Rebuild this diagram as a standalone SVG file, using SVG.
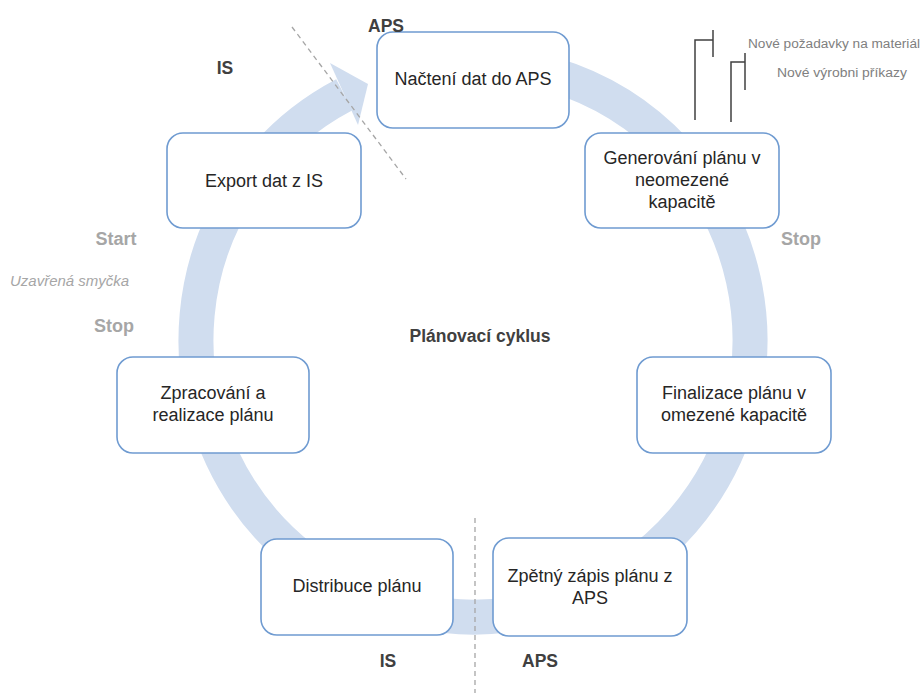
<svg xmlns="http://www.w3.org/2000/svg" width="922" height="693" viewBox="0 0 922 693">
  <style>
    .node rect { fill: #ffffff; stroke: #6f9bd1; stroke-width: 1.6; }
    .node text { font-family: "Liberation Sans", Arial, sans-serif; font-size: 18px; fill: #262626; text-anchor: middle; }
    .lbl { font-family: "Liberation Sans", Arial, sans-serif; font-size: 17.5px; font-weight: bold; fill: #404040; text-anchor: middle; }
    .gray { font-family: "Liberation Sans", Arial, sans-serif; font-size: 18px; font-weight: bold; fill: #a6a6a6; text-anchor: middle; }
    .note { font-family: "Liberation Sans", Arial, sans-serif; font-size: 12.5px; fill: #808080; }
    .ring { fill: none; stroke: #d0ddef; stroke-width: 35; }
    .split { stroke: #a6a6a6; stroke-width: 1.3; stroke-dasharray: 5 4; fill: none; }
    .bracket { stroke: #404040; stroke-width: 1.5; fill: none; }
  </style>

  <!-- cycle ring with arrowhead -->
  <g id="connectors">
    <path class="ring" d="M 424.9 67.2 A 277 277 0 1 1 344.3 94.7"/>
    <polygon points="330,63 368,84 358,125" fill="#d0ddef"/>
  </g>

  <!-- dashed boundaries between IS and APS -->
  <g id="boundaries">
    <line class="split" x1="292" y1="27" x2="406" y2="179"/>
    <line class="split" x1="475" y1="518" x2="475" y2="693"/>
  </g>

  <!-- nodes -->
  <g id="nacteni" class="node">
    <rect x="377" y="32" width="192" height="96" rx="16"/>
    <text x="473" y="85">Načtení dat do APS</text>
  </g>
  <g id="generovani" class="node">
    <rect x="585" y="133" width="194" height="95" rx="16"/>
    <text x="682" y="164">Generování plánu v</text>
    <text x="682" y="186">neomezené</text>
    <text x="682" y="208">kapacitě</text>
  </g>
  <g id="finalizace" class="node">
    <rect x="637" y="357" width="194" height="96" rx="16"/>
    <text x="734" y="399">Finalizace plánu v</text>
    <text x="734" y="421">omezené kapacitě</text>
  </g>
  <g id="zpetny-zapis" class="node">
    <rect x="493" y="538" width="194" height="98" rx="16"/>
    <text x="590" y="582">Zpětný zápis plánu z</text>
    <text x="590" y="604">APS</text>
  </g>
  <g id="distribuce" class="node">
    <rect x="261" y="539" width="192" height="96" rx="16"/>
    <text x="357" y="592">Distribuce plánu</text>
  </g>
  <g id="zpracovani" class="node">
    <rect x="117" y="357" width="192" height="96" rx="16"/>
    <text x="213" y="399">Zpracování a</text>
    <text x="213" y="421">realizace plánu</text>
  </g>
  <g id="export" class="node">
    <rect x="167" y="133" width="194" height="95" rx="16"/>
    <text x="264" y="187">Export dat z IS</text>
  </g>

  <!-- system labels -->
  <g id="labels">
    <text class="lbl" x="386" y="32">APS</text>
    <text class="lbl" x="225" y="74">IS</text>
    <text class="lbl" x="388" y="667">IS</text>
    <text class="lbl" x="540" y="667">APS</text>
    <text class="lbl" x="480" y="342" font-size="18.5">Plánovací cyklus</text>
    <text class="gray" x="116" y="245">Start</text>
    <text class="gray" x="114" y="332">Stop</text>
    <text class="gray" x="801" y="245">Stop</text>
    <text x="10" y="286" font-family="'Liberation Sans', Arial, sans-serif" font-size="15" font-style="italic" fill="#a6a6a6">Uzavřená smyčka</text>
  </g>

  <!-- new demand markers -->
  <g id="markers">
    <polyline class="bracket" points="695,120 695,40 713,40"/>
    <line class="bracket" x1="713" y1="30" x2="713" y2="57"/>
    <polyline class="bracket" points="731,122 731,62 745,62"/>
    <line class="bracket" x1="745" y1="53" x2="745" y2="90"/>
    <text class="note" x="748" y="48" textLength="172" lengthAdjust="spacingAndGlyphs">Nové požadavky na materiál</text>
    <text class="note" x="777" y="77" textLength="130" lengthAdjust="spacingAndGlyphs">Nové výrobni příkazy</text>
  </g>
</svg>
